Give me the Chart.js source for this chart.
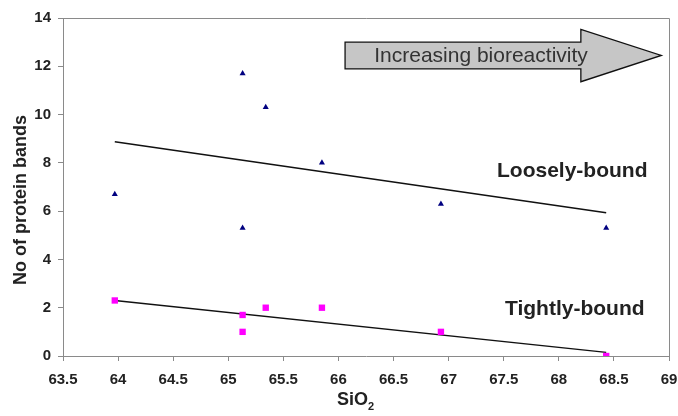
<!DOCTYPE html>
<html>
<head>
<meta charset="utf-8">
<script src="https://cdn.jsdelivr.net/npm/chart.js@4/dist/chart.umd.min.js"></script>
<style>
  html, body { margin: 0; padding: 0; background: #fff; }
  #wrap { width: 678px; height: 416px; }
</style>
</head>
<body>
<div id="wrap"><canvas id="chart" width="678" height="416"></canvas></div>
<script>
// SiO2 content of each sample
const sio2 = [63.97, 65.13, 65.34, 65.85, 65.13, 66.93, 68.43];
const looselyBound = [6.7, 11.7, 10.3, 8.0, 5.3, 6.3, 5.3];

const sio2Tight = [63.97, 65.13, 65.13, 65.34, 65.85, 66.93, 68.43];
const tightlyBound = [2.3, 1.7, 1.0, 2.0, 2.0, 1.0, 0.0];

// trend lines (end points)
const trendX = [63.97, 68.43];
const looseTrend = [8.87, 5.93];
const tightTrend = [2.3, 0.15];

const xTicks = [63.5, 64, 64.5, 65, 65.5, 66, 66.5, 67, 67.5, 68, 68.5, 69];
const yTicks = [0, 2, 4, 6, 8, 10, 12, 14];

const pts = (xs, ys) => xs.map((x, i) => ({ x: x, y: ys[i] }));

const FONT = "'Liberation Sans', Arial, sans-serif";

// border on top/right, arrow, labels and axis titles
const extras = {
  id: "extras",
  afterDraw(chart) {
    const ctx = chart.ctx;
    const a = chart.chartArea;
    const xs = chart.scales.x, ys = chart.scales.y;
    ctx.save();
    ctx.strokeStyle = "#8a8a8a";
    ctx.lineWidth = 1;
    ctx.beginPath();
    ctx.moveTo(a.left, a.top + 0.5);
    ctx.lineTo(a.right + 0.5, a.top + 0.5);
    ctx.lineTo(a.right + 0.5, a.bottom);
    ctx.stroke();

    // arrow
    const X = v => xs.getPixelForValue(v), Y = v => ys.getPixelForValue(v);
    ctx.beginPath();
    ctx.moveTo(X(66.06), Y(13.0));
    ctx.lineTo(X(68.2), Y(13.0));
    ctx.lineTo(X(68.2), Y(13.53));
    ctx.lineTo(X(68.93), Y(12.45));
    ctx.lineTo(X(68.2), Y(11.36));
    ctx.lineTo(X(68.2), Y(11.89));
    ctx.lineTo(X(66.06), Y(11.89));
    ctx.closePath();
    ctx.fillStyle = "#c6c6c6";
    ctx.fill();
    ctx.strokeStyle = "#111";
    ctx.lineWidth = 1.3;
    ctx.stroke();

    ctx.fillStyle = "#333";
    ctx.textAlign = "center";
    ctx.textBaseline = "middle";
    ctx.font = "21px " + FONT;
    ctx.fillText("Increasing bioreactivity", 481, 56);

    ctx.fillStyle = "#222";
    ctx.font = "bold 21px " + FONT;
    ctx.textAlign = "left";
    ctx.fillText("Loosely-bound", 497, 171);
    ctx.fillText("Tightly-bound", 505, 309);

    // y title
    ctx.save();
    ctx.translate(21, 200);
    ctx.rotate(-Math.PI / 2);
    ctx.textAlign = "center";
    ctx.font = "bold 18px " + FONT;
    ctx.fillText("No of protein bands", 0, 0);
    ctx.restore();

    // x title with subscript
    ctx.textAlign = "left";
    ctx.textBaseline = "alphabetic";
    ctx.font = "bold 18px " + FONT;
    ctx.fillText("SiO", 337, 405);
    const w = ctx.measureText("SiO").width;
    ctx.font = "bold 11px " + FONT;
    ctx.fillText("2", 337 + w, 410);
    ctx.restore();
  }
};

new Chart(document.getElementById("chart"), {
  type: "scatter",
  data: {
    datasets: [
      {
        label: "Loosely-bound",
        data: pts(sio2, looselyBound),
        pointStyle: "triangle",
        radius: 3.5,
        backgroundColor: "#000080",
        borderColor: "#000080",
        borderWidth: 0
      },
      {
        label: "Tightly-bound",
        data: pts(sio2Tight, tightlyBound),
        pointStyle: "rect",
        radius: 4.5,
        backgroundColor: "#ff00ff",
        borderColor: "#ff00ff",
        borderWidth: 0
      },
      {
        label: "Loose trend",
        data: pts(trendX, looseTrend),
        showLine: true,
        pointRadius: 0,
        borderColor: "#111",
        borderWidth: 1.5
      },
      {
        label: "Tight trend",
        data: pts(trendX, tightTrend),
        showLine: true,
        pointRadius: 0,
        borderColor: "#111",
        borderWidth: 1.5
      }
    ]
  },
  options: {
    responsive: false,
    animation: false,
    layout: { padding: { top: 18, right: 9, left: 0, bottom: 0 } },
    plugins: { legend: { display: false }, tooltip: { enabled: false } },
    scales: {
      x: {
        min: 63.5, max: 69,
        afterBuildTicks: s => { s.ticks = xTicks.map(v => ({ value: v })); },
        afterFit: s => { s.height = 60; s.paddingLeft = 0; s.paddingRight = 0; },
        grid: { drawOnChartArea: false, drawTicks: true, tickLength: 5, color: "#8a8a8a" },
        border: { color: "#8a8a8a" },
        ticks: {
          color: "#222", font: { family: FONT, size: 15, weight: "bold" }, padding: 10, maxRotation: 0,
          callback: v => String(v)
        }
      },
      y: {
        min: 0, max: 14,
        afterBuildTicks: s => { s.ticks = yTicks.map(v => ({ value: v })); },
        afterFit: s => { s.width = 63; s.paddingTop = 0; s.paddingBottom = 0; },
        grid: { drawOnChartArea: false, drawTicks: true, tickLength: 5, color: "#8a8a8a" },
        border: { color: "#8a8a8a" },
        ticks: { color: "#222", font: { family: FONT, size: 15, weight: "bold" }, padding: 7 }
      }
    }
  },
  plugins: [extras]
});
</script>
</body>
</html>
